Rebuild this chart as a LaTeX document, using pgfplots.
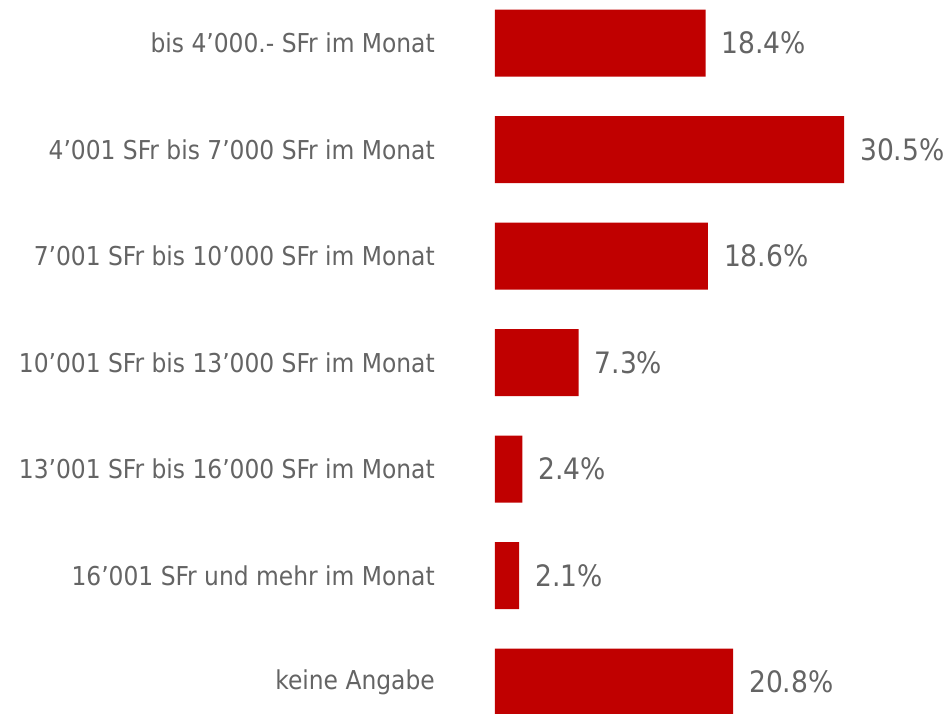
\documentclass[border=0pt]{standalone}
\usepackage{fontspec}
\setmainfont{DejaVu Sans Condensed}
\usepackage{pgfplots}
\pgfplotsset{compat=1.18}
\definecolor{barred}{RGB}{192,0,0}
\definecolor{txtgray}{RGB}{100,100,100}
\begin{document}
\begin{tikzpicture}
\useasboundingbox (0pt,0pt) rectangle (948pt,714pt);
\begin{axis}[
  at={(495pt,714pt)}, anchor=north west,
  scale only axis, width=349pt, height=714pt,
  xmin=0, xmax=30.5,
  ymin=-0.404, ymax=6.3,
  y dir=reverse,
  xbar, bar width=67pt,
  axis x line=none,
  axis y line*=left,
  y axis line style={draw=none},
  major tick length=0pt,
  ytick={0,1,2,3,4,5,6},
  yticklabels={{bis 4’000.- SFr im Monat},{4’001 SFr bis 7’000 SFr im Monat},{7’001 SFr bis 10’000 SFr im Monat},{10’001 SFr bis 13’000 SFr im Monat},{13’001 SFr bis 16’000 SFr im Monat},{16’001 SFr und mehr im Monat},{keine Angabe}},
  yticklabel style={font=\fontsize{26}{31}\selectfont, text=txtgray, anchor=east, inner sep=0pt, xshift=-60pt},
  /pgf/number format/assume math mode=true,
  nodes near coords={\pgfmathprintnumber[fixed,fixed zerofill,precision=1]{\pgfplotspointmeta}\%},
  nodes near coords style={font=\fontsize{29.5}{35}\selectfont, text=txtgray, anchor=west, inner sep=0pt, xshift=16pt},
  clip=false,
]
\addplot[fill=barred, draw=none] coordinates {
  (18.4,0) (30.5,1) (18.6,2) (7.3,3) (2.4,4) (2.1,5) (20.8,6)
};
\end{axis}
\end{tikzpicture}
\end{document}
